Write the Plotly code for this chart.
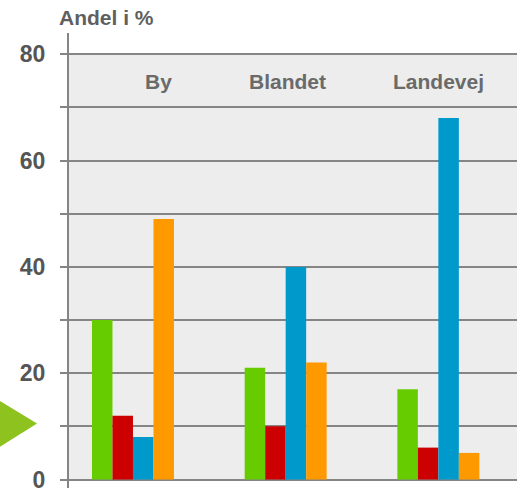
import plotly.graph_objects as go

# Share of accidents (%) by road environment
categories = ["By", "Blandet", "Landevej"]
series_green = [30, 21, 17]
series_red = [12, 10, 6]
series_blue = [8, 40, 68]
series_orange = [49, 22, 5]
y_ticks = [0, 10, 20, 30, 40, 50, 60, 70, 80]
y_tick_text = ["0", "", "20", "", "40", "", "60", "", "80"]
y_title = "Andel i %"

colors = ["#66cc00", "#cc0000", "#0099cc", "#ff9900"]
series = [series_green, series_red, series_blue, series_orange]

x_pos = list(range(len(categories)))

fig = go.Figure()
for vals, col in zip(series, colors):
    fig.add_trace(go.Bar(x=x_pos, y=vals, marker=dict(color=col, line=dict(width=0)),
                         showlegend=False, hoverinfo="y"))

GRID = "#858585"
FONT = "Liberation Sans, Arial, sans-serif"

# Grey plot band from 0 to 80
fig.add_shape(type="rect", xref="paper", yref="y", x0=0, x1=1, y0=0, y1=80,
              fillcolor="#ededed", line=dict(width=0), layer="below")

# Green arrow marker at the left edge
fig.add_shape(type="path", xref="paper", yref="paper",
              path="M -0.16 0.195 L -0.0714 0.142 L -0.16 0.087 Z",
              fillcolor="#8dc21f", line=dict(width=0))

# Category labels inside the plot
label_x = [0.164, 1.015, 2.0]
for cat, lx in zip(categories, label_x):
    fig.add_annotation(x=lx, y=74.8, xref="x", yref="y", text="<b>" + cat + "</b>", showarrow=False,
                       font=dict(family=FONT, size=21, color="#6a6a6a"),
                       xanchor="center", yanchor="middle")

fig.add_annotation(x=-0.0268, y=1.033, xref="paper", yref="paper", text="<b>" + y_title + "</b>",
                   showarrow=False, xanchor="left", yanchor="middle",
                   font=dict(family=FONT, size=21, color="#5f5f5f"))

fig.update_layout(
    width=517, height=492,
    margin=dict(l=69, r=0, t=33, b=1),
    paper_bgcolor="white", plot_bgcolor="white",
    barmode="group", bargap=0.463, bargroupgap=0,
    xaxis=dict(range=[-0.419, 2.515], showticklabels=False, showgrid=False,
               zeroline=False, showline=False, ticks=""),
    yaxis=dict(range=[-1.6, 84], tickvals=y_ticks, ticktext=y_tick_text,
               showgrid=True, gridcolor=GRID, gridwidth=1.5, zeroline=False,
               showline=True, linecolor=GRID, linewidth=2,
               ticks="outside", ticklen=7, tickwidth=1.5, tickcolor=GRID,
               ticklabelstandoff=10, ticklabeloverflow="allow",
               tickfont=dict(family=FONT, size=23, color="#555555", weight="bold")),
)

fig.write_html("out.html")
